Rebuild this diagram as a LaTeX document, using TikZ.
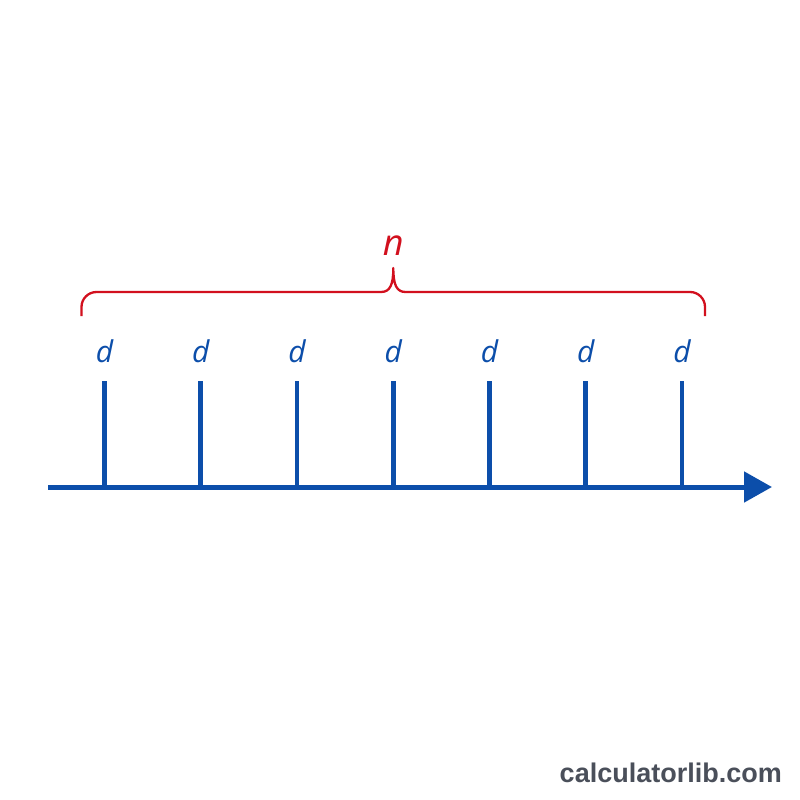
\documentclass[tikz,border=0pt]{standalone}
\usepackage{fontspec}
\setmainfont{Open Sans}
\newfontfamily\wmfont{Liberation Sans}
\usetikzlibrary{arrows.meta}
\definecolor{axisblue}{RGB}{12,78,170}
\definecolor{bracered}{RGB}{210,16,30}
\definecolor{wmgray}{RGB}{74,79,90}
\begin{document}
\begin{tikzpicture}[x=1pt,y=-1pt,
  axisline/.style={draw=axisblue,line width=5pt},
  tickline/.style={draw=axisblue,line width=4.8pt},
  dlabel/.style={text=axisblue,font=\fontsize{30}{34}\selectfont\itshape,inner sep=0pt},
  nlabel/.style={text=bracered,font=\fontsize{36}{40}\selectfont\itshape,inner sep=0pt},
  braceline/.style={draw=bracered,line width=2.3pt,line join=round},
  wm/.style={text=wmgray,font=\wmfont\bfseries\fontsize{27}{30}\selectfont,inner sep=0pt}]
\useasboundingbox[fill=white] (0,0) rectangle (800,800);
\coordinate (start) at (48,487);
\coordinate (tip) at (772,487);
\draw[axisline,-{Triangle[length=28pt,width=30pt]}] (start) -- (tip);
\foreach \i/\x in {1/104.5,2/200.8,3/297,4/393.3,5/489.6,6/585.8,7/682} {
  \coordinate (b\i) at (\x,487);
  \coordinate (t\i) at (\x,381);
  \draw[tickline] (b\i) -- (t\i);
  \node[dlabel] (d\i) at (\x,351) {d};
}
\coordinate (bl) at (81.5,316);
\coordinate (br) at (705,316);
\coordinate (bc) at (393.3,268);
\draw[braceline] (bl) -- (81.5,307) .. controls (81.5,298.7) and (88.2,292) .. (96.5,292) -- (381,292)
  .. controls (390,292) and (393.3,285) .. (bc)
  .. controls (393.3,285) and (396.6,292) .. (405.6,292)
  -- (690,292) .. controls (698.3,292) and (705,298.7) .. (705,307) -- (br);
\node[nlabel] (n) at (393.3,246) {n};
\node[wm,anchor=east] (wmk) at (782,773) {calculatorlib.com};
\end{tikzpicture}
\end{document}
